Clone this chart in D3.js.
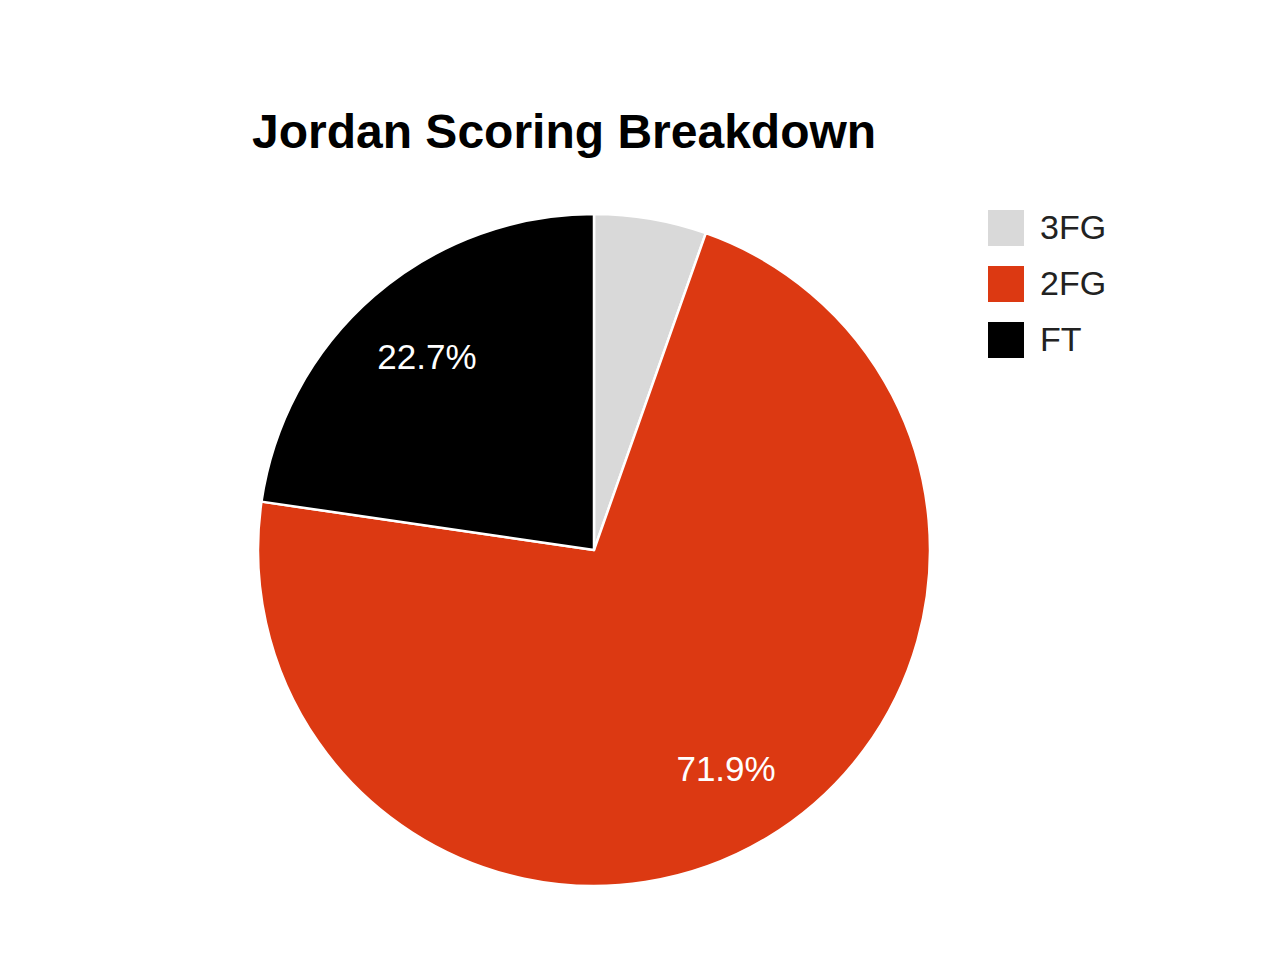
<!DOCTYPE html>
<html>
<head>
<meta charset="utf-8">
<script src="https://cdn.jsdelivr.net/npm/d3@7"></script>
<style>
  html, body { margin: 0; padding: 0; background: #fff; }
  svg { display: block; }
</style>
</head>
<body>
<svg id="chart" width="1280" height="966"></svg>
<script>
const categories = ["3FG", "2FG", "FT"];
const values = [5.4, 71.9, 22.7];
const colors = ["#d9d9d9", "#dc3912", "#000000"];
const titleText = "Jordan Scoring Breakdown";

const svg = d3.select("#chart");
const cx = 594, cy = 550, R = 336;

svg.append("text")
  .attr("x", 252).attr("y", 148)
  .attr("font-family", "Liberation Sans, Arial, sans-serif")
  .attr("font-weight", "bold")
  .attr("font-size", 48)
  .attr("fill", "#000")
  .text(titleText);

const data = categories.map((c, i) => ({ name: c, value: values[i], color: colors[i] }));
const pie = d3.pie().value(d => d.value).sort(null);
const arcs = pie(data);
const arc = d3.arc().innerRadius(0).outerRadius(R);
const labelArc = d3.arc().innerRadius(R * 0.76).outerRadius(R * 0.76);

const g = svg.append("g").attr("transform", `translate(${cx},${cy})`);
g.selectAll("path.slice").data(arcs).enter().append("path")
  .attr("class", "slice")
  .attr("d", arc)
  .attr("fill", d => d.data.color)
  .attr("stroke", "#fff")
  .attr("stroke-width", 2.5)
  .attr("stroke-linejoin", "round");

const total = d3.sum(values);
g.selectAll("text.lbl").data(arcs.filter(d => d.data.value / total >= 0.1)).enter().append("text")
  .attr("class", "lbl")
  .attr("transform", d => `translate(${labelArc.centroid(d)})`)
  .attr("text-anchor", "middle")
  .attr("dy", "0.36em")
  .attr("font-family", "Liberation Sans, Arial, sans-serif")
  .attr("font-size", 35)
  .attr("fill", "#ffffff")
  .text(d => (d.data.value / total * 100).toFixed(1) + "%");

const legend = svg.append("g");
const lg = legend.selectAll("g").data(data).enter().append("g")
  .attr("transform", (d, i) => `translate(988, ${210 + i * 56})`);
lg.append("rect")
  .attr("width", 36).attr("height", 36)
  .attr("fill", d => d.color);
lg.append("text")
  .attr("x", 52).attr("y", 29)
  .attr("font-family", "Liberation Sans, Arial, sans-serif")
  .attr("font-size", 34)
  .attr("fill", "#222")
  .text(d => d.name);
</script>
</body>
</html>
